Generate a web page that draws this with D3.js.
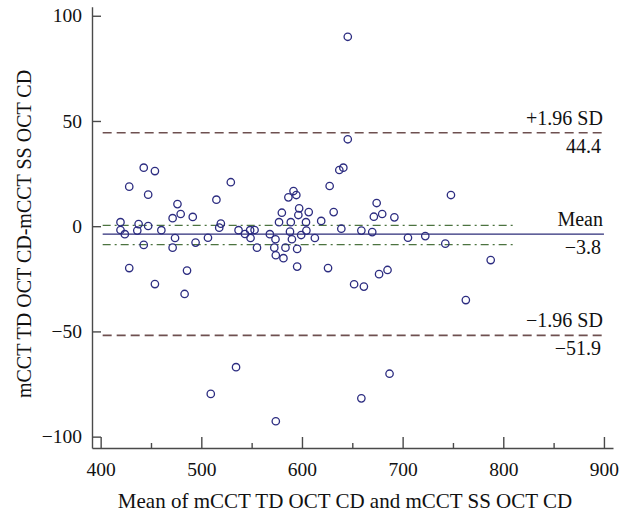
<!DOCTYPE html>
<html>
<head>
<meta charset="utf-8">
<script src="https://cdn.jsdelivr.net/npm/d3@7"></script>
<style>
  body { margin: 0; background: #fff; }
  svg { display: block; font-family: "Liberation Serif", "DejaVu Serif", serif; }
</style>
</head>
<body>
<svg id="chart" width="630" height="519"></svg>
<script>
// 1: DATA
// mean of the two methods (x) and their difference (y)
const meanValues = [
  442.8, 453.9, 637.1, 641.1, 645.5, 645.5, 428.4, 447.2, 529.3, 419.7,
  419.7, 424.0, 437.7, 436.4, 447.2, 460.3, 442.8, 428.4, 453.9, 471.5,
  476.3, 479.5, 473.9, 471.5, 491.5, 494.3, 485.8, 483.4, 506.6, 515.0,
  519.4, 517.8, 537.0, 543.4, 548.5, 552.9, 548.9, 555.3, 568.1, 573.7,
  572.5, 574.0, 581.6, 583.6, 595.2, 577.2, 580.0, 586.5, 591.6, 594.4,
  588.9, 588.1, 590.0, 595.2, 597.2, 596.4, 599.2, 604.0, 604.4, 606.7,
  612.8, 619.1, 625.9, 627.5, 631.5, 639.1, 651.8, 659.0, 661.5, 669.8,
  671.4, 674.2, 679.7, 676.6, 685.0, 691.8, 705.3, 722.5, 742.4, 748.0,
  762.8, 787.5, 509.4, 534.5, 574.0, 659.0, 687.0
];
const diffValues = [
  27.8, 26.2, 26.7, 27.8, 41.3, 90.0, 18.8, 15.0, 20.9, 1.9,
  -1.8, -3.8, 1.0, -2.1, 0.1, -1.9, -8.9, -19.9, -27.5, 3.8,
  10.5, 5.8, -5.6, -10.2, 4.4, -7.8, -21.1, -32.2, -5.5, 12.6,
  1.2, -0.7, -1.9, -3.7, -1.9, -1.8, -5.6, -10.2, -3.8, -6.2,
  -10.2, -13.8, -15.2, -10.2, -19.2, 1.9, 6.4, 13.7, 16.7, 14.8,
  1.9, -2.6, -6.2, -10.8, 8.5, 5.3, -4.2, 1.9, -2.1, 6.7,
  -5.6, 2.5, -19.9, 19.1, 6.7, -1.2, -27.6, -2.1, -28.7, -2.8,
  4.5, 11.0, 5.8, -22.8, -20.8, 4.2, -5.5, -4.7, -8.3, 14.8,
  -35.1, -16.1, -79.7, -67.0, -92.7, -81.8, -70.1
];

const meanDiff = -3.8;
const upperLimit = 44.4;
const lowerLimit = -51.9;
const meanCI = [0.4, -8.8];          // green dash-dot band around the mean
const lineRange = [402, 900];        // x extent of mean / limit lines
const ciRange = [402, 810];          // x extent of the CI lines

const xTicks = [400, 500, 600, 700, 800, 900];
const xMinorTicks = [450, 550, 650, 750, 850];
const yTicks = [-100, -50, 0, 50, 100];

const xTitle = "Mean of mCCT TD OCT CD and mCCT SS OCT CD";
const yTitle = "mCCT TD OCT CD-mCCT SS OCT CD";

// 2: SCALES
const svg = d3.select("#chart");
const tickSize = 19.5;
const labelSize = 20;
const titleSize = 21;

const x = d3.scaleLinear().domain([391.4, 909]).range([92, 613]);
const y = d3.scaleLinear().domain([-105.4, 104.3]).range([448, 6.7]);

const data = meanValues.map((m, i) => ({ m: m, d: diffValues[i] }));

// 3: AXES
svg.append("g")
    .attr("transform", `translate(0,${y.range()[0]})`)
    .call(d3.axisBottom(x).tickValues(xTicks).tickSizeInner(-11).tickSizeOuter(0)
        .tickPadding(14).tickFormat(d3.format("d")));

svg.append("g")
    .attr("transform", `translate(0,${y.range()[0]})`)
    .call(d3.axisBottom(x).tickValues(xMinorTicks).tickSizeInner(-5).tickSizeOuter(0)
        .tickFormat(""))
    .call(g => g.select(".domain").remove());

svg.append("g")
    .attr("transform", `translate(${x.range()[0]},0)`)
    .call(d3.axisLeft(y).tickValues(yTicks).tickSizeInner(-9).tickSizeOuter(0)
        .tickPadding(10).tickFormat(d3.format("d")));

svg.selectAll(".tick line, .domain")
    .attr("stroke", "#4a4a4a")
    .attr("stroke-width", 1.4);
svg.selectAll(".tick text")
    .attr("fill", "#111")
    .style("font-size", tickSize + "px")
    .style("font-family", "Liberation Serif, serif");

// 4: REFERENCE LINES
const hline = (val, range) => svg.append("line")
    .attr("x1", x(range[0])).attr("x2", x(range[1]))
    .attr("y1", y(val)).attr("y2", y(val));

meanCI.forEach(v => {
  hline(v, ciRange)
      .attr("stroke", "#4c7340")
      .attr("stroke-width", 1.2)
      .attr("stroke-dasharray", "8,4,2,4");
});

hline(meanDiff, lineRange)
    .attr("stroke", "#2c2c78")
    .attr("stroke-width", 1.3);

[upperLimit, lowerLimit].forEach(v => {
  hline(v, lineRange)
      .attr("stroke", "#6e5050")
      .attr("stroke-width", 1.6)
      .attr("stroke-dasharray", "9,5");
});

// 5: POINTS
svg.append("g")
  .selectAll("circle")
  .data(data)
  .join("circle")
    .attr("cx", d => x(d.m))
    .attr("cy", d => y(d.d))
    .attr("r", 3.7)
    .attr("fill", "none")
    .attr("stroke", "#2c2c80")
    .attr("stroke-width", 1.3);

// 6: LINE LABELS
const fmt = v => (v < 0 ? "\u2212" : "") + Math.abs(v).toFixed(1);
const lineLabels = [
  { val: upperLimit, above: "+1.96 SD", below: fmt(upperLimit) },
  { val: meanDiff, above: "Mean", below: fmt(meanDiff) },
  { val: lowerLimit, above: "\u22121.96 SD", below: fmt(lowerLimit) }
];

lineLabels.forEach(d => {
  svg.append("text")
      .attr("x", x(lineRange[1]) - 1)
      .attr("y", y(d.val) - 8)
      .attr("text-anchor", "end")
      .style("font-size", labelSize + "px")
      .attr("fill", "#111")
      .text(d.above);
  svg.append("text")
      .attr("x", x(lineRange[1]) - 3)
      .attr("y", y(d.val) + 20)
      .attr("text-anchor", "end")
      .style("font-size", labelSize + "px")
      .attr("fill", "#111")
      .text(d.below);
});

// 7: AXIS TITLES
svg.append("text")
    .attr("x", 345)
    .attr("y", 508)
    .attr("text-anchor", "middle")
    .style("font-size", titleSize + "px")
    .attr("fill", "#111")
    .text(xTitle);

svg.append("text")
    .attr("transform", "rotate(-90)")
    .attr("x", -234)
    .attr("y", 31)
    .attr("text-anchor", "middle")
    .style("font-size", "20px")
    .attr("fill", "#111")
    .text(yTitle);
</script>
</body>
</html>
